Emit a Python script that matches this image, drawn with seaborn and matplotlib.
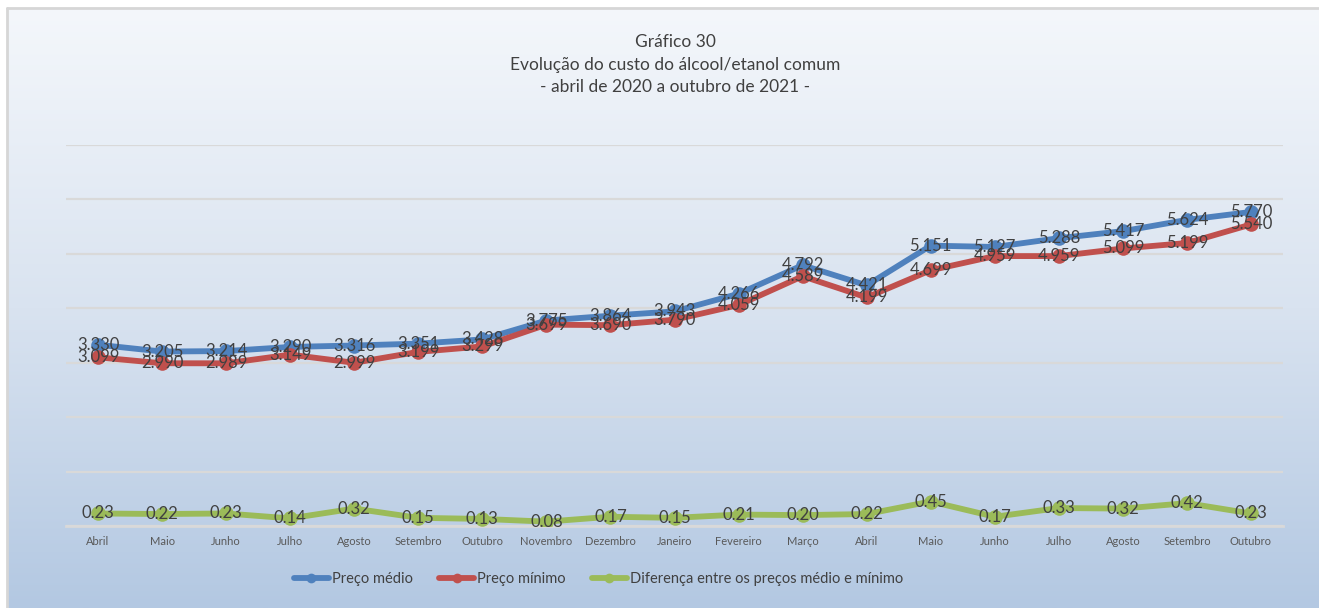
import numpy as np
import pandas as pd
import matplotlib
matplotlib.use("Agg")
import matplotlib.pyplot as plt
from matplotlib.lines import Line2D
from matplotlib.colors import LinearSegmentedColormap
import seaborn as sns

# ---- data -------------------------------------------------------------
meses = ["Abril", "Maio", "Junho", "Julho", "Agosto", "Setembro", "Outubro",
         "Novembro", "Dezembro", "Janeiro", "Fevereiro", "Março", "Abril",
         "Maio", "Junho", "Julho", "Agosto", "Setembro", "Outubro"]
preco_medio = [3.330, 3.205, 3.214, 3.290, 3.316, 3.351, 3.428, 3.775, 3.864,
               3.943, 4.266, 4.792, 4.421, 5.151, 5.127, 5.288, 5.417, 5.624,
               5.770]
preco_minimo = [3.099, 2.990, 2.989, 3.149, 2.999, 3.199, 3.299, 3.699, 3.690,
                3.790, 4.059, 4.589, 4.199, 4.699, 4.959, 4.959, 5.099, 5.199,
                5.540]
diferenca = [0.23, 0.22, 0.23, 0.14, 0.32, 0.15, 0.13, 0.08, 0.17, 0.15, 0.21,
             0.20, 0.22, 0.45, 0.17, 0.33, 0.32, 0.42, 0.23]

series_nomes = ["Preço médio", "Preço mínimo",
                "Diferença entre os preços médio e mínimo"]
titulo = ["Gráfico 30", "Evolução do custo do álcool/etanol comum",
          "- abril de 2020 a outubro de 2021 -"]

# ---- style ------------------------------------------------------------
sns.set_theme(style="white")
plt.rcParams["font.family"] = ["Lato", "DejaVu Sans"]

cores = ["#4f81bd", "#c0504d", "#9bbb59"]
txt = "#404040"

W, H = 1319, 608
fig = plt.figure(figsize=(W / 100, H / 100), dpi=100)
fig.patch.set_facecolor("white")

# gradient background panel with a thin grey frame
bg = fig.add_axes([7 / W, 0, 1 - 7 / W, 1 - 9 / H], zorder=0)
grad = LinearSegmentedColormap.from_list("bg", ["#f4f7fb", "#d9e3f0", "#b3c8e2"])
bg.imshow(np.linspace(0, 1, 256).reshape(-1, 1), aspect="auto", cmap=grad,
          extent=[0, 1, 0, 1])
bg.set_axis_off()
fig.add_artist(Line2D([7 / W, 7 / W], [0, 1 - 8 / H], transform=fig.transFigure,
                      color="#d6d6d6", lw=2))
fig.add_artist(Line2D([7 / W, 1], [1 - 8 / H, 1 - 8 / H], transform=fig.transFigure,
                      color="#d6d6d6", lw=2))

# plot area
x0, x1 = 66, 1283
y_top, y_bot = 145, 526
ax = fig.add_axes([x0 / W, (H - y_bot) / H, (x1 - x0) / W, (y_bot - y_top) / H], zorder=2)
ax.patch.set_alpha(0)

df = pd.DataFrame({"idx": np.arange(len(meses)), "mes": meses,
                   series_nomes[0]: preco_medio,
                   series_nomes[1]: preco_minimo,
                   series_nomes[2]: diferenca})
long = df.melt(id_vars=["idx", "mes"], var_name="serie", value_name="valor")

sns.lineplot(data=long, x="idx", y="valor", hue="serie", hue_order=series_nomes,
             palette=cores, marker="o", markersize=10.5, markeredgewidth=0,
             linewidth=4.2, ax=ax, legend=False, zorder=3)

ax.set_xlim(-0.5, len(meses) - 0.5)
ax.set_ylim(0, 7)
ax.set_yticks(range(0, 8))
ax.yaxis.grid(True, color="#d9d9d9", lw=1.6)
ax.set_yticklabels([])
ax.tick_params(axis="y", length=0)
ax.set_xticks(df["idx"])
ax.set_xticklabels(meses, fontsize=8, color="#595959")
ax.tick_params(axis="x", length=0, pad=7)
for s in ["top", "right", "left"]:
    ax.spines[s].set_visible(False)
ax.spines["bottom"].set_color("#d9d9d9")
ax.spines["bottom"].set_linewidth(2)
ax.set_xlabel("")
ax.set_ylabel("")

# value labels, centred on each point
for i in range(len(meses)):
    ax.text(i, preco_medio[i], f"{preco_medio[i]:.3f}", ha="center", va="center",
            fontsize=12, color=txt, zorder=5)
    ax.text(i, preco_minimo[i], f"{preco_minimo[i]:.3f}", ha="center", va="center",
            fontsize=12, color=txt, zorder=5)
    ax.text(i, diferenca[i], f"{diferenca[i]:.2f}", ha="center", va="center",
            fontsize=12, color=txt, zorder=5)

# titles
for line, y in zip(titulo, [42, 65, 87]):
    fig.text(675 / W, 1 - y / H, line, ha="center", va="center",
             fontsize=12.5, color=txt)

# legend
handles = [Line2D([0], [0], color=c, lw=4.2, marker="o", markersize=7,
                  markeredgewidth=0) for c in cores]
fig.legend(handles, series_nomes, loc="center left",
           bbox_to_anchor=(288 / W, 1 - 579 / H), borderaxespad=0,
           ncol=3, frameon=False, fontsize=10.5, handlelength=2.4, handletextpad=0.2,
           columnspacing=1.8, labelcolor=txt)

fig.savefig("out.png", dpi=100)
